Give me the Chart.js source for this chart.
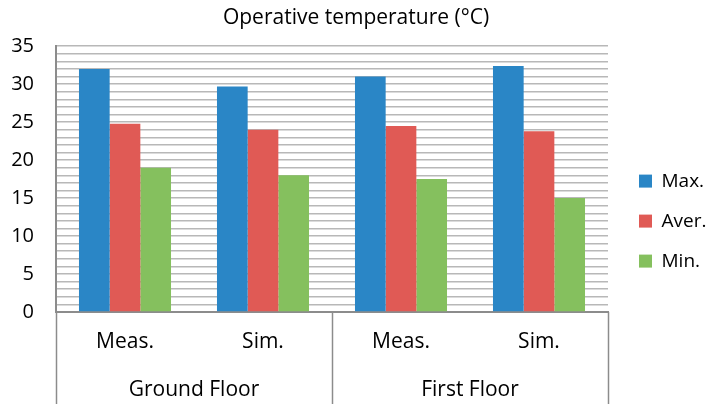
<!DOCTYPE html>
<html>
<head>
<meta charset="utf-8">
<script src="https://cdn.jsdelivr.net/npm/chart.js@4/dist/chart.umd.min.js"></script>
<style>
html,body{margin:0;padding:0;background:#fff;}
#wrap{width:712px;height:404px;position:relative;}
</style>
</head>
<body>
<div id="wrap"><canvas id="c" width="712" height="404"></canvas></div>
<script>
const categories = ["Meas.", "Sim.", "Meas.", "Sim."];
const groups = ["Ground Floor", "First Floor"];
const maxValues = [32.0, 29.7, 31.0, 32.4];
const averValues = [24.8, 24.0, 24.5, 23.8];
const minValues = [19.0, 18.0, 17.5, 15.0];
const seriesNames = ["Max.", "Aver.", "Min."];
const titleText = "Operative temperature (°C)";

const FONT = "'Open Sans', sans-serif";

const separatorPlugin = {
  id: 'separators',
  afterDraw(chart) {
    const ctx = chart.ctx;
    const x = chart.scales.x;
    const area = chart.chartArea;
    const positions = [area.left, x.getPixelForValue(1.5), area.right];
    ctx.save();
    ctx.strokeStyle = '#8c8c8c';
    ctx.lineWidth = 1.5;
    positions.forEach(p => {
      ctx.beginPath();
      ctx.moveTo(Math.round(p) + 0.5, area.bottom);
      ctx.lineTo(Math.round(p) + 0.5, chart.height);
      ctx.stroke();
    });
    ctx.restore();
  }
};

new Chart(document.getElementById('c'), {
  type: 'bar',
  data: {
    labels: categories,
    datasets: [
      { label: seriesNames[0], data: maxValues, backgroundColor: '#2A86C6' },
      { label: seriesNames[1], data: averValues, backgroundColor: '#E05A55' },
      { label: seriesNames[2], data: minValues, backgroundColor: '#85C05E' }
    ]
  },
  options: {
    responsive: false,
    animation: false,
    devicePixelRatio: 1,
    layout: { padding: { top: 0, left: 0, right: 0, bottom: 0 } },
    datasets: { bar: { categoryPercentage: 0.667, barPercentage: 1.0 } },
    plugins: {
      title: {
        display: true, text: titleText, color: '#000',
        font: { family: FONT, size: 21, weight: 'normal' },
        padding: { top: 5, bottom: 16 }
      },
      legend: {
        position: 'right',
        maxWidth: 94,
        title: { display: true, text: ' ', font: { size: 1 }, padding: { top: 0, bottom: 37 } },
        labels: {
          color: '#000', boxWidth: 13, boxHeight: 13, padding: 21,
          font: { family: FONT, size: 19 }
        }
      },
      tooltip: { enabled: false }
    },
    scales: {
      x: {
        type: 'category',
        grid: { display: false, drawTicks: false },
        border: { display: true, color: '#8c8c8c', width: 2 },
        ticks: { color: '#000', font: { family: FONT, size: 21 }, padding: 17, maxRotation: 0 },
        afterFit: s => { s.height = 45; }
      },
      x2: {
        type: 'category',
        labels: groups,
        position: 'bottom',
        offset: true,
        grid: { display: false, drawTicks: false },
        border: { display: false },
        ticks: { color: '#000', font: { family: FONT, size: 21 }, padding: 20, maxRotation: 0 },
        afterFit: s => { s.height = 47; }
      },
      y: {
        min: 0, max: 35,
        grid: { color: '#b8b8b8', lineWidth: 1.5, drawTicks: false },
        border: { display: true, color: '#8c8c8c', width: 2 },
        ticks: {
          stepSize: 1, autoSkip: false, color: '#000', padding: 22,
          font: { family: FONT, size: 20 },
          callback: v => (v % 5 === 0 ? String(v) : '')
        },
        afterFit: s => { s.width = 56; }
      },
      y2: {
        position: 'right',
        display: true,
        grid: { display: false, drawTicks: false },
        border: { display: false },
        ticks: { display: false },
        afterFit: s => { s.width = 10; }
      }
    }
  },
  plugins: [separatorPlugin]
});
</script>
</body>
</html>
